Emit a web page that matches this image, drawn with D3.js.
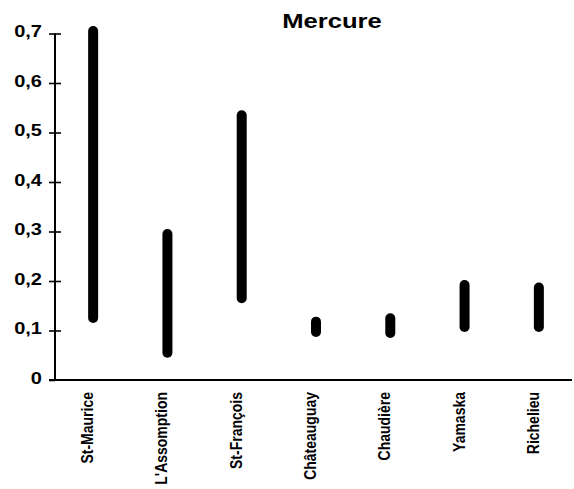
<!DOCTYPE html>
<html>
<head>
<meta charset="utf-8">
<script src="https://cdn.jsdelivr.net/npm/d3@7"></script>
<style>
  html, body { margin: 0; padding: 0; background: #fff; }
  svg { display: block; }
  text { font-family: "Liberation Sans", Arial, sans-serif; font-weight: bold; fill: #000; }
</style>
</head>
<body>
<svg id="chart" width="574" height="489"></svg>
<script>
// Mercury concentration ranges per river (min / max)
const rivers = ["St-Maurice", "L'Assomption", "St-François", "Châteauguay", "Chaudière", "Yamaska", "Richelieu"];
const minValues = [0.115, 0.045, 0.155, 0.087, 0.085, 0.097, 0.097];
const maxValues = [0.715, 0.305, 0.545, 0.128, 0.135, 0.202, 0.197];
const yTicks = [0, 0.1, 0.2, 0.3, 0.4, 0.5, 0.6, 0.7];
const yTickLabels = ["0", "0,1", "0,2", "0,3", "0,4", "0,5", "0,6", "0,7"];
const title = "Mercure";

const svg = d3.select("#chart");
const axisX = 55, axisBottom = 380, axisTop = 33.5;

const y = d3.scaleLinear().domain([0, 0.7]).range([axisBottom, axisTop]);
const x = d3.scaleBand().domain(rivers).range([56, 576]);

// Y axis with ticks crossing the line
const yAxis = d3.axisLeft(y)
  .tickValues(yTicks)
  .tickFormat((d, i) => yTickLabels[i])
  .tickSizeOuter(0);

const gy = svg.append("g")
  .attr("transform", `translate(${axisX},0)`)
  .call(yAxis);
gy.select(".domain").remove();
gy.selectAll(".tick line")
  .attr("x1", -6).attr("x2", d => d === 0 ? 0 : 6)
  .attr("stroke", "#000").attr("stroke-width", 1.6);
gy.selectAll(".tick text")
  .attr("x", 0).attr("dy", "0.32em")
  .attr("transform", "translate(-13,-2) scale(1.25,1)")
  .style("font-size", "16px")
  .style("font-family", "'Liberation Sans', Arial, sans-serif")
  .style("font-weight", "bold")
  .attr("fill", "#000");

// Axis lines
svg.append("line")
  .attr("x1", axisX).attr("x2", axisX)
  .attr("y1", y(0.7)).attr("y2", y(0) + 1)
  .attr("stroke", "#000").attr("stroke-width", 2);
svg.append("line")
  .attr("x1", axisX - 6).attr("x2", 572)
  .attr("y1", y(0)).attr("y2", y(0))
  .attr("stroke", "#000").attr("stroke-width", 2);

// Range bars
const barW = 10;
svg.append("g").selectAll("rect")
  .data(rivers)
  .join("rect")
  .attr("x", d => x(d) + x.bandwidth() / 2 - barW / 2)
  .attr("width", barW)
  .attr("y", (d, i) => y(maxValues[i]))
  .attr("height", (d, i) => y(minValues[i]) - y(maxValues[i]))
  .attr("rx", barW / 2)
  .attr("fill", "#000");

// Category labels, rotated
svg.append("g").selectAll("text")
  .data(rivers)
  .join("text")
  .attr("transform", d => `translate(${x(d) + x.bandwidth() / 2},392) rotate(-90) scale(1,1.15)`)
  .attr("text-anchor", "end")
  .style("font-size", "14px")
  .text(d => d);

// Title
svg.append("text")
  .attr("transform", "translate(332,28) scale(1.22,1)")
  .attr("text-anchor", "middle")
  .style("font-size", "21px")
  .text(title);
</script>
</body>
</html>
